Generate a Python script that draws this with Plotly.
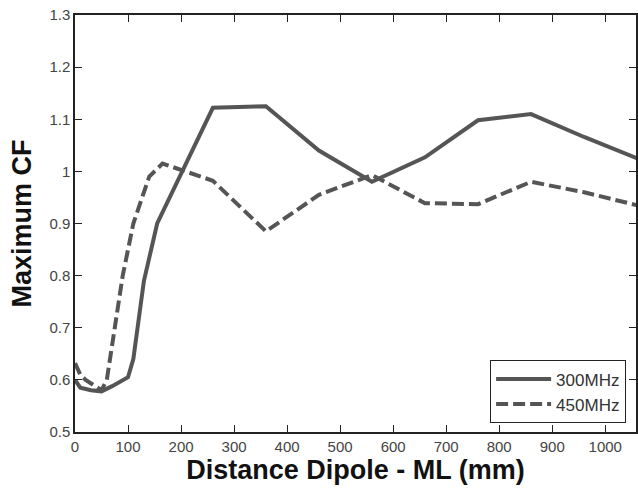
import plotly.graph_objects as go

# Maximum coupling factor versus dipole-to-ML distance
dist_300 = [0, 10, 30, 50, 70, 100, 110, 130, 155, 260, 360, 460, 560, 660, 760, 860, 960, 1060]
cf_300 = [0.60, 0.585, 0.58, 0.578, 0.588, 0.605, 0.64, 0.79, 0.90, 1.122, 1.125, 1.04, 0.98, 1.027, 1.098, 1.11, 1.066, 1.025]

dist_450 = [0, 10, 20, 50, 60, 75, 90, 110, 140, 165, 260, 360, 460, 560, 660, 760, 860, 960, 1060]
cf_450 = [0.632, 0.61, 0.60, 0.58, 0.60, 0.70, 0.80, 0.90, 0.99, 1.015, 0.982, 0.885, 0.955, 0.993, 0.939, 0.937, 0.98, 0.96, 0.935]

x_ticks = [0, 100, 200, 300, 400, 500, 600, 700, 800, 900, 1000]
y_ticks = [0.5, 0.6, 0.7, 0.8, 0.9, 1.0, 1.1, 1.2, 1.3]
y_labels = ["0.5", "0.6", "0.7", "0.8", "0.9", "1", "1.1", "1.2", "1.3"]

line_color = "#555555"
font_family = "Liberation Sans, Arial, sans-serif"

fig = go.Figure()
fig.add_trace(go.Scatter(x=dist_300, y=cf_300, mode="lines", name="300MHz",
                         line=dict(color=line_color, width=4)))
fig.add_trace(go.Scatter(x=dist_450, y=cf_450, mode="lines", name="450MHz",
                         line=dict(color=line_color, width=4, dash="12px,5px")))

axis_common = dict(showgrid=False, zeroline=False, showline=True, linecolor="#222222",
                   linewidth=1.5, mirror="allticks", ticks="inside", ticklen=7,
                   tickcolor="#222222", tickwidth=1.2,
                   tickfont=dict(family=font_family, size=15, color="#444444"))

fig.update_layout(
    width=638, height=488,
    margin=dict(l=75, r=0, t=15, b=56),
    paper_bgcolor="white", plot_bgcolor="white",
    font=dict(family=font_family),
    xaxis=dict(range=[0, 1058], tickvals=x_ticks,
               title=dict(text="<b>Distance Dipole - ML (mm)</b>", standoff=4,
                          font=dict(family=font_family, size=27, color="#111111")),
               **axis_common),
    yaxis=dict(range=[0.5, 1.3], tickvals=y_ticks, ticktext=y_labels,
               title=dict(text="<b>Maximum CF</b>", standoff=10,
                          font=dict(family=font_family, size=27, color="#111111")),
               **axis_common),
    legend=dict(x=0.982, y=0.021, xanchor="right", yanchor="bottom",
                bgcolor="white", bordercolor="#222222", borderwidth=1.2,
                itemwidth=55, tracegroupgap=0,
                font=dict(family=font_family, size=17, color="#333333")),
    showlegend=True,
)

fig.write_html("out.html")
